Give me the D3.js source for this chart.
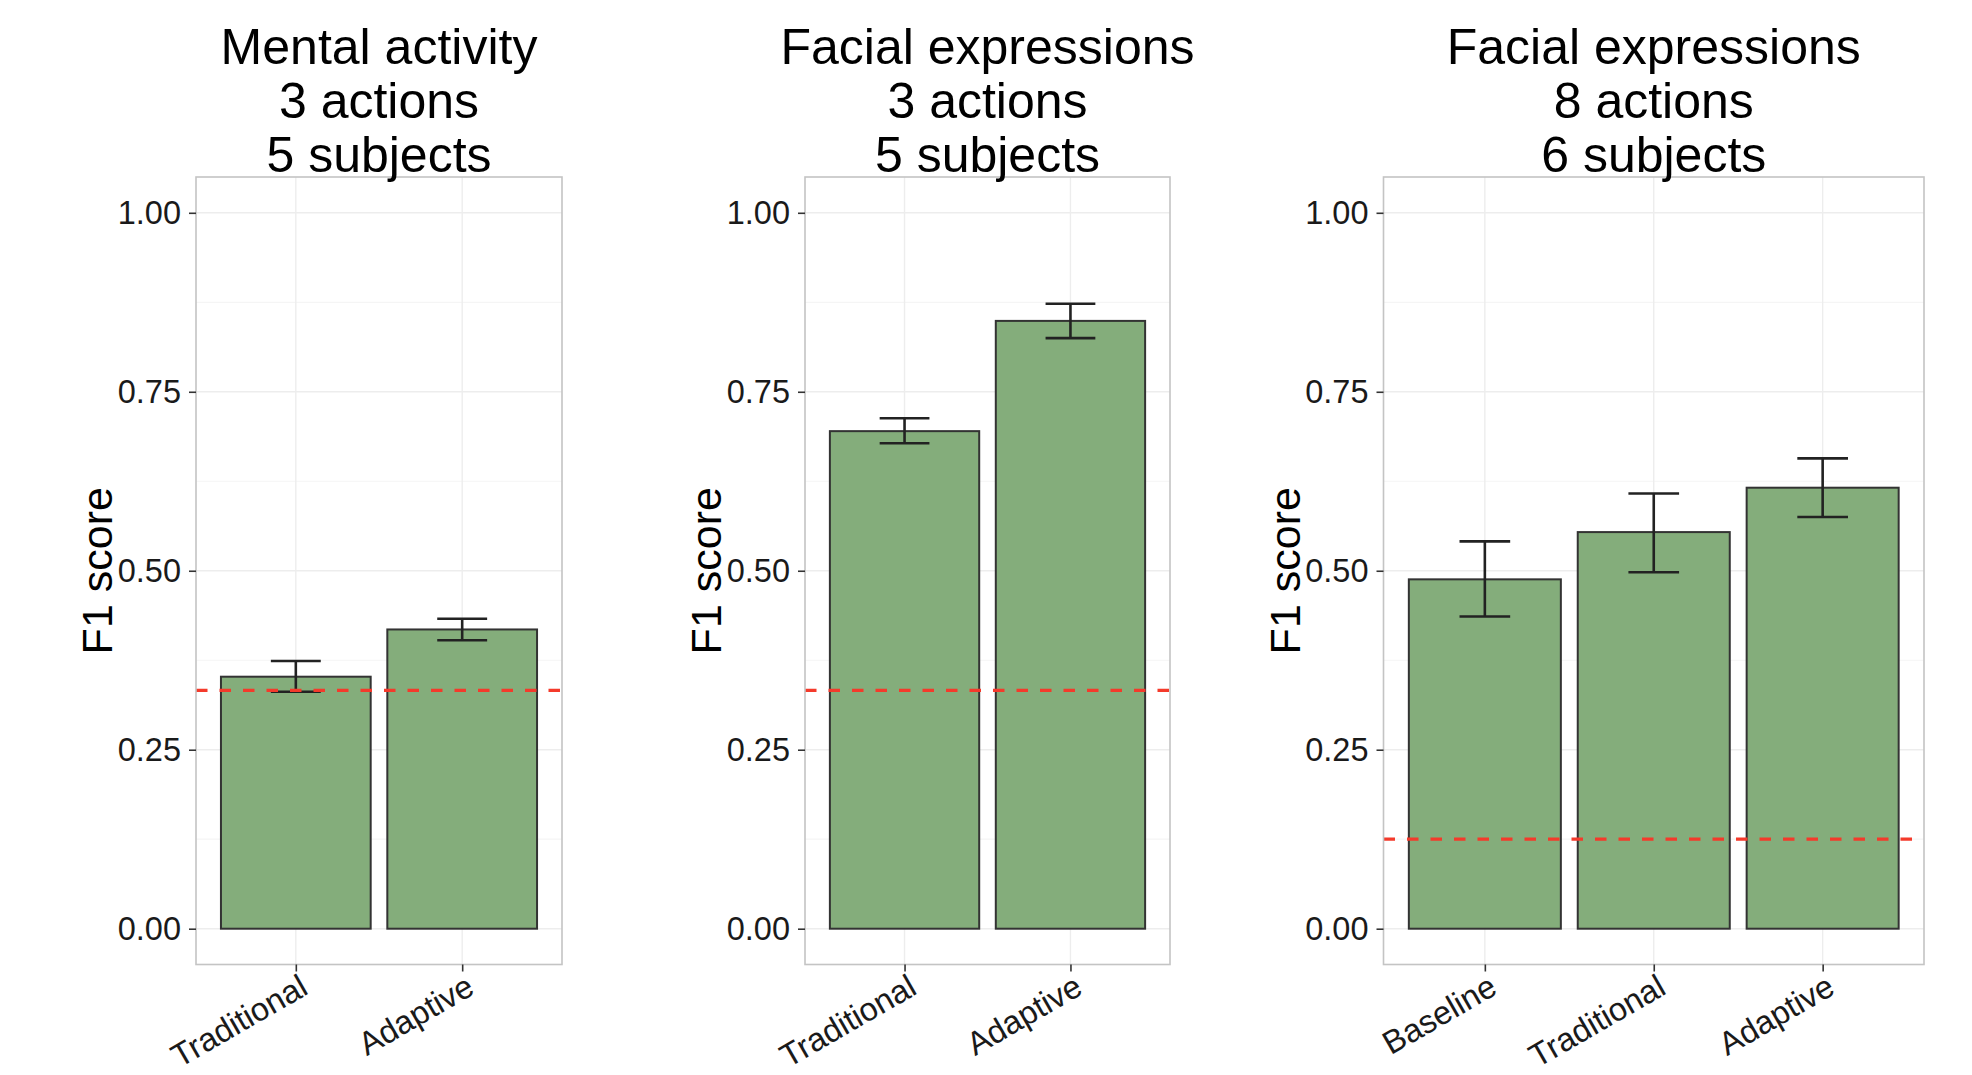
<!DOCTYPE html>
<html>
<head>
<meta charset="utf-8">
<script src="https://cdn.jsdelivr.net/npm/d3@7"></script>
<style>
  html, body { margin: 0; padding: 0; background: #ffffff; }
  svg { display: block; font-family: "Liberation Sans", Arial, Helvetica, sans-serif; }
</style>
</head>
<body>
<svg id="chart" width="1972" height="1075"></svg>
<script>
// ---- Data ----
const panelTitles = [
  ["Mental activity", "3 actions", "5 subjects"],
  ["Facial expressions", "3 actions", "5 subjects"],
  ["Facial expressions", "8 actions", "6 subjects"]
];
const categories1 = ["Traditional", "Adaptive"];
const f1Mean1 = [0.352, 0.418];
const f1Low1  = [0.331, 0.403];
const f1High1 = [0.374, 0.433];
const chance1 = 0.333;

const categories2 = ["Traditional", "Adaptive"];
const f1Mean2 = [0.695, 0.849];
const f1Low2  = [0.678, 0.825];
const f1High2 = [0.713, 0.873];
const chance2 = 0.333;

const categories3 = ["Baseline", "Traditional", "Adaptive"];
const f1Mean3 = [0.488, 0.554, 0.616];
const f1Low3  = [0.436, 0.498, 0.575];
const f1High3 = [0.541, 0.608, 0.657];
const chance3 = 0.125;

const yTicks = [0, 0.25, 0.5, 0.75, 1];
const yMinorTicks = [0.125, 0.375, 0.625, 0.875];
const yLabel = "F1 score";

// ---- Layout ----
const panels = [
  { x0: 196, x1: 562, cats: categories1, mean: f1Mean1, lo: f1Low1, hi: f1High1, chance: chance1, title: panelTitles[0] },
  { x0: 805, x1: 1170, cats: categories2, mean: f1Mean2, lo: f1Low2, hi: f1High2, chance: chance2, title: panelTitles[1] },
  { x0: 1383.5, x1: 1924, cats: categories3, mean: f1Mean3, lo: f1Low3, hi: f1High3, chance: chance3, title: panelTitles[2] }
];
const plotTop = 177, plotBottom = 964.5;
const svg = d3.select("#chart");

const y = d3.scaleLinear().domain([-0.05, 1.05]).range([plotBottom, plotTop]);

panels.forEach(p => {
  const n = p.cats.length;
  const x = d3.scaleLinear().domain([0.4, n + 0.6]).range([p.x0, p.x1]);
  const unit = x(2) - x(1);
  const g = svg.append("g");

  // grid
  g.selectAll("line.minor").data(yMinorTicks).enter().append("line")
    .attr("x1", p.x0).attr("x2", p.x1)
    .attr("y1", d => y(d)).attr("y2", d => y(d))
    .attr("stroke", "#f5f5f5").attr("stroke-width", 1.2);
  g.selectAll("line.major").data(yTicks).enter().append("line")
    .attr("x1", p.x0).attr("x2", p.x1)
    .attr("y1", d => y(d)).attr("y2", d => y(d))
    .attr("stroke", "#ededed").attr("stroke-width", 1.4);
  g.selectAll("line.vgrid").data(p.cats).enter().append("line")
    .attr("x1", (d, i) => x(i + 1)).attr("x2", (d, i) => x(i + 1))
    .attr("y1", plotTop).attr("y2", plotBottom)
    .attr("stroke", "#ededed").attr("stroke-width", 1.4);

  // bars
  g.selectAll("rect.bar").data(p.mean).enter().append("rect")
    .attr("x", (d, i) => x(i + 1) - 0.45 * unit)
    .attr("width", 0.9 * unit)
    .attr("y", d => y(d))
    .attr("height", d => y(0) - y(d))
    .attr("fill", "#84ad7b")
    .attr("stroke", "#333333")
    .attr("stroke-width", 2);

  // error bars
  const eb = g.selectAll("g.err").data(p.mean).enter().append("g");
  eb.append("line")
    .attr("x1", (d, i) => x(i + 1)).attr("x2", (d, i) => x(i + 1))
    .attr("y1", (d, i) => y(p.lo[i])).attr("y2", (d, i) => y(p.hi[i]));
  eb.append("line")
    .attr("x1", (d, i) => x(i + 1) - 0.15 * unit).attr("x2", (d, i) => x(i + 1) + 0.15 * unit)
    .attr("y1", (d, i) => y(p.hi[i])).attr("y2", (d, i) => y(p.hi[i]));
  eb.append("line")
    .attr("x1", (d, i) => x(i + 1) - 0.15 * unit).attr("x2", (d, i) => x(i + 1) + 0.15 * unit)
    .attr("y1", (d, i) => y(p.lo[i])).attr("y2", (d, i) => y(p.lo[i]));
  eb.selectAll("line").attr("stroke", "#222222").attr("stroke-width", 2.6);

  // chance line
  g.append("line")
    .attr("x1", p.x0).attr("x2", p.x1)
    .attr("y1", y(p.chance)).attr("y2", y(p.chance))
    .attr("stroke", "#f43a2b").attr("stroke-width", 3.2)
    .attr("stroke-dasharray", "11.5,12");

  // panel border
  g.append("rect")
    .attr("x", p.x0).attr("y", plotTop)
    .attr("width", p.x1 - p.x0).attr("height", plotBottom - plotTop)
    .attr("fill", "none").attr("stroke", "#c4c4c4").attr("stroke-width", 1.6);

  // y axis
  const ya = g.append("g").attr("transform", `translate(${p.x0},0)`)
    .call(d3.axisLeft(y).tickValues(yTicks).tickFormat(d3.format(".2f")).tickSize(7).tickPadding(8));
  ya.select(".domain").remove();
  ya.selectAll(".tick line").attr("stroke", "#333333").attr("stroke-width", 1.6);
  ya.selectAll(".tick text").attr("fill", "#1a1a1a").style("font-size", "32.5px")
    .style("font-family", "'Liberation Sans', Arial, sans-serif");

  // x ticks
  const xa = g.append("g").attr("transform", `translate(0,${plotBottom})`)
    .call(d3.axisBottom(x).tickValues(d3.range(1, n + 1)).tickFormat("").tickSize(7));
  xa.select(".domain").remove();
  xa.selectAll(".tick line").attr("stroke", "#333333").attr("stroke-width", 1.6);

  // x labels rotated
  g.selectAll("text.xlab").data(p.cats).enter().append("text")
    .attr("transform", (d, i) => `translate(${x(i + 1) + 14},${plotBottom + 28.5}) rotate(-30)`)
    .attr("text-anchor", "end")
    .attr("fill", "#1a1a1a")
    .style("font-size", "32.5px")
    .text(d => d);

  // y label
  g.append("text")
    .attr("transform", `translate(${p.x0 - 84},${(plotTop + plotBottom) / 2}) rotate(-90)`)
    .attr("text-anchor", "middle")
    .attr("fill", "#000")
    .style("font-size", "43px")
    .text(yLabel);

  // title
  const cx = (p.x0 + p.x1) / 2;
  p.title.forEach((line, k) => {
    g.append("text")
      .attr("x", cx).attr("y", 63.5 + k * 54.2)
      .attr("text-anchor", "middle")
      .attr("fill", "#000")
      .style("font-size", "50px")
      .text(line);
  });
});
</script>
</body>
</html>
